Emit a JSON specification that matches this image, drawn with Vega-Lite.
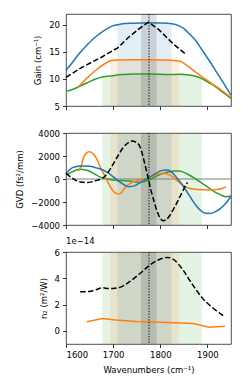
{
  "$schema": "https://vega.github.io/schema/vega-lite/v6.json",
  "padding": {"left": 15, "top": 13, "right": 14, "bottom": 6},
  "background": "white",
  "datasets": {
    "gain": [
      {"s": "m3", "x": 1600, "y": 7.7}, {"s": "m3", "x": 1615, "y": 8.1}, {"s": "m3", "x": 1628, "y": 8.6}, {"s": "m3", "x": 1645, "y": 9.3}, {"s": "m3", "x": 1663, "y": 10.0}, {"s": "m3", "x": 1677, "y": 10.35}, {"s": "m3", "x": 1699, "y": 10.6}, {"s": "m3", "x": 1720, "y": 10.8}, {"s": "m3", "x": 1745, "y": 10.9}, {"s": "m3", "x": 1776, "y": 10.9}, {"s": "m3", "x": 1800, "y": 10.85}, {"s": "m3", "x": 1819, "y": 10.8}, {"s": "m3", "x": 1840, "y": 10.85}, {"s": "m3", "x": 1861, "y": 10.75}, {"s": "m3", "x": 1875, "y": 10.5}, {"s": "m3", "x": 1888, "y": 10.05}, {"s": "m3", "x": 1903, "y": 9.3}, {"s": "m3", "x": 1917, "y": 8.6}, {"s": "m3", "x": 1933, "y": 7.5}, {"s": "m3", "x": 1950, "y": 6.4},
      {"s": "m2", "x": 1627, "y": 8.6}, {"s": "m2", "x": 1645, "y": 10.2}, {"s": "m2", "x": 1663, "y": 11.6}, {"s": "m2", "x": 1684, "y": 12.9}, {"s": "m2", "x": 1694, "y": 13.35}, {"s": "m2", "x": 1710, "y": 13.5}, {"s": "m2", "x": 1740, "y": 13.55}, {"s": "m2", "x": 1776, "y": 13.55}, {"s": "m2", "x": 1810, "y": 13.5}, {"s": "m2", "x": 1840, "y": 13.3}, {"s": "m2", "x": 1858, "y": 12.4}, {"s": "m2", "x": 1875, "y": 11.25}, {"s": "m2", "x": 1890, "y": 10.3}, {"s": "m2", "x": 1910, "y": 9.1}, {"s": "m2", "x": 1930, "y": 7.9}, {"s": "m2", "x": 1950, "y": 6.6},
      {"s": "m1", "x": 1600, "y": 11.6}, {"s": "m1", "x": 1614, "y": 13.1}, {"s": "m1", "x": 1628, "y": 14.7}, {"s": "m1", "x": 1645, "y": 16.3}, {"s": "m1", "x": 1663, "y": 17.8}, {"s": "m1", "x": 1680, "y": 18.9}, {"s": "m1", "x": 1699, "y": 19.8}, {"s": "m1", "x": 1709, "y": 20.0}, {"s": "m1", "x": 1720, "y": 20.2}, {"s": "m1", "x": 1740, "y": 20.3}, {"s": "m1", "x": 1776, "y": 20.4}, {"s": "m1", "x": 1800, "y": 20.35}, {"s": "m1", "x": 1824, "y": 20.2}, {"s": "m1", "x": 1840, "y": 19.8}, {"s": "m1", "x": 1850, "y": 19.3}, {"s": "m1", "x": 1861, "y": 18.4}, {"s": "m1", "x": 1875, "y": 17.1}, {"s": "m1", "x": 1889, "y": 15.3}, {"s": "m1", "x": 1903, "y": 13.5}, {"s": "m1", "x": 1917, "y": 11.6}, {"s": "m1", "x": 1933, "y": 9.4}, {"s": "m1", "x": 1950, "y": 7.0},
      {"s": "ref", "x": 1600, "y": 10.3}, {"s": "ref", "x": 1635, "y": 12.2}, {"s": "ref", "x": 1677, "y": 14.1}, {"s": "ref", "x": 1709, "y": 15.7}, {"s": "ref", "x": 1720, "y": 16.6}, {"s": "ref", "x": 1734, "y": 17.8}, {"s": "ref", "x": 1750, "y": 18.9}, {"s": "ref", "x": 1762, "y": 19.7}, {"s": "ref", "x": 1775, "y": 20.5}, {"s": "ref", "x": 1797, "y": 19.1}, {"s": "ref", "x": 1826, "y": 16.6}, {"s": "ref", "x": 1855, "y": 14.5}
    ],
    "gvd": [
      {"s": "m3", "x": 1600, "y": 348}, {"s": "m3", "x": 1614, "y": 638}, {"s": "m3", "x": 1622, "y": 780}, {"s": "m3", "x": 1631, "y": 841}, {"s": "m3", "x": 1640, "y": 800}, {"s": "m3", "x": 1649, "y": 696}, {"s": "m3", "x": 1660, "y": 450}, {"s": "m3", "x": 1670, "y": 203}, {"s": "m3", "x": 1685, "y": 30}, {"s": "m3", "x": 1699, "y": -87}, {"s": "m3", "x": 1717, "y": -140}, {"s": "m3", "x": 1734, "y": -174}, {"s": "m3", "x": 1745, "y": -230}, {"s": "m3", "x": 1755, "y": -290}, {"s": "m3", "x": 1766, "y": -220}, {"s": "m3", "x": 1776, "y": -87}, {"s": "m3", "x": 1787, "y": 130}, {"s": "m3", "x": 1797, "y": 348}, {"s": "m3", "x": 1808, "y": 520}, {"s": "m3", "x": 1819, "y": 638}, {"s": "m3", "x": 1830, "y": 690}, {"s": "m3", "x": 1840, "y": 696}, {"s": "m3", "x": 1850, "y": 580}, {"s": "m3", "x": 1861, "y": 348}, {"s": "m3", "x": 1875, "y": 0}, {"s": "m3", "x": 1889, "y": -377}, {"s": "m3", "x": 1903, "y": -780}, {"s": "m3", "x": 1917, "y": -1160}, {"s": "m3", "x": 1928, "y": -1380}, {"s": "m3", "x": 1939, "y": -1537}, {"s": "m3", "x": 1950, "y": -1479},
      {"s": "m2", "x": 1626, "y": 700}, {"s": "m2", "x": 1632, "y": 1100}, {"s": "m2", "x": 1638, "y": 1943}, {"s": "m2", "x": 1643, "y": 2250}, {"s": "m2", "x": 1649, "y": 2378}, {"s": "m2", "x": 1655, "y": 2300}, {"s": "m2", "x": 1660, "y": 2088}, {"s": "m2", "x": 1667, "y": 1600}, {"s": "m2", "x": 1674, "y": 928}, {"s": "m2", "x": 1683, "y": 200}, {"s": "m2", "x": 1692, "y": -522}, {"s": "m2", "x": 1700, "y": -1050}, {"s": "m2", "x": 1706, "y": -1247}, {"s": "m2", "x": 1711, "y": -1300}, {"s": "m2", "x": 1716, "y": -1247}, {"s": "m2", "x": 1721, "y": -1000}, {"s": "m2", "x": 1727, "y": -667}, {"s": "m2", "x": 1737, "y": -350}, {"s": "m2", "x": 1748, "y": -174}, {"s": "m2", "x": 1758, "y": -60}, {"s": "m2", "x": 1769, "y": 0}, {"s": "m2", "x": 1780, "y": 200}, {"s": "m2", "x": 1790, "y": 348}, {"s": "m2", "x": 1800, "y": 450}, {"s": "m2", "x": 1808, "y": 493}, {"s": "m2", "x": 1817, "y": 400}, {"s": "m2", "x": 1826, "y": 203}, {"s": "m2", "x": 1836, "y": -150}, {"s": "m2", "x": 1847, "y": -522}, {"s": "m2", "x": 1860, "y": -780}, {"s": "m2", "x": 1875, "y": -899}, {"s": "m2", "x": 1890, "y": -940}, {"s": "m2", "x": 1903, "y": -957}, {"s": "m2", "x": 1914, "y": -940}, {"s": "m2", "x": 1924, "y": -899}, {"s": "m2", "x": 1933, "y": -800}, {"s": "m2", "x": 1939, "y": -667},
      {"s": "m1", "x": 1600, "y": 493}, {"s": "m1", "x": 1614, "y": 986}, {"s": "m1", "x": 1625, "y": 1100}, {"s": "m1", "x": 1635, "y": 1131}, {"s": "m1", "x": 1650, "y": 1100}, {"s": "m1", "x": 1663, "y": 986}, {"s": "m1", "x": 1675, "y": 850}, {"s": "m1", "x": 1685, "y": 638}, {"s": "m1", "x": 1700, "y": 200}, {"s": "m1", "x": 1713, "y": -232}, {"s": "m1", "x": 1724, "y": -520}, {"s": "m1", "x": 1734, "y": -667}, {"s": "m1", "x": 1745, "y": -600}, {"s": "m1", "x": 1755, "y": -377}, {"s": "m1", "x": 1766, "y": -100}, {"s": "m1", "x": 1776, "y": 116}, {"s": "m1", "x": 1787, "y": 400}, {"s": "m1", "x": 1797, "y": 638}, {"s": "m1", "x": 1806, "y": 760}, {"s": "m1", "x": 1815, "y": 783}, {"s": "m1", "x": 1824, "y": 600}, {"s": "m1", "x": 1833, "y": 203}, {"s": "m1", "x": 1844, "y": -350}, {"s": "m1", "x": 1854, "y": -957}, {"s": "m1", "x": 1865, "y": -1650}, {"s": "m1", "x": 1875, "y": -2262}, {"s": "m1", "x": 1886, "y": -2750}, {"s": "m1", "x": 1896, "y": -2987}, {"s": "m1", "x": 1906, "y": -3000}, {"s": "m1", "x": 1917, "y": -2842}, {"s": "m1", "x": 1928, "y": -2550}, {"s": "m1", "x": 1939, "y": -2117}, {"s": "m1", "x": 1950, "y": -1500},
      {"s": "ref", "x": 1600, "y": 493}, {"s": "ref", "x": 1614, "y": 58}, {"s": "ref", "x": 1625, "y": -200}, {"s": "ref", "x": 1635, "y": -290}, {"s": "ref", "x": 1645, "y": -310}, {"s": "ref", "x": 1656, "y": -232}, {"s": "ref", "x": 1667, "y": -100}, {"s": "ref", "x": 1677, "y": 58}, {"s": "ref", "x": 1688, "y": 500}, {"s": "ref", "x": 1699, "y": 1218}, {"s": "ref", "x": 1710, "y": 2000}, {"s": "ref", "x": 1720, "y": 2668}, {"s": "ref", "x": 1730, "y": 3100}, {"s": "ref", "x": 1741, "y": 3306}, {"s": "ref", "x": 1748, "y": 3200}, {"s": "ref", "x": 1755, "y": 2958}, {"s": "ref", "x": 1761, "y": 2300}, {"s": "ref", "x": 1766, "y": 1508}, {"s": "ref", "x": 1771, "y": 650}, {"s": "ref", "x": 1776, "y": -232}, {"s": "ref", "x": 1781, "y": -1100}, {"s": "ref", "x": 1787, "y": -1972}, {"s": "ref", "x": 1794, "y": -2900}, {"s": "ref", "x": 1801, "y": -3480}, {"s": "ref", "x": 1806, "y": -3620}, {"s": "ref", "x": 1811, "y": -3567}, {"s": "ref", "x": 1818, "y": -3300}, {"s": "ref", "x": 1825, "y": -2842}, {"s": "ref", "x": 1833, "y": -2250}, {"s": "ref", "x": 1840, "y": -1682}, {"s": "ref", "x": 1847, "y": -1100}, {"s": "ref", "x": 1854, "y": -522}, {"s": "ref", "x": 1858, "y": -300}
    ],
    "n2": [
      {"s": "ref", "x": 1630, "y": 2.97e-14}, {"s": "ref", "x": 1649, "y": 3.0e-14}, {"s": "ref", "x": 1665, "y": 3.15e-14}, {"s": "ref", "x": 1677, "y": 3.28e-14}, {"s": "ref", "x": 1690, "y": 3.22e-14}, {"s": "ref", "x": 1699, "y": 3.23e-14}, {"s": "ref", "x": 1716, "y": 3.33e-14}, {"s": "ref", "x": 1734, "y": 3.72e-14}, {"s": "ref", "x": 1755, "y": 4.31e-14}, {"s": "ref", "x": 1776, "y": 4.95e-14}, {"s": "ref", "x": 1797, "y": 5.41e-14}, {"s": "ref", "x": 1815, "y": 5.59e-14}, {"s": "ref", "x": 1829, "y": 5.41e-14}, {"s": "ref", "x": 1847, "y": 4.69e-14}, {"s": "ref", "x": 1868, "y": 3.54e-14}, {"s": "ref", "x": 1889, "y": 2.51e-14}, {"s": "ref", "x": 1910, "y": 1.79e-14}, {"s": "ref", "x": 1935, "y": 1.12e-14},
      {"s": "m2", "x": 1644, "y": 0.7e-14}, {"s": "m2", "x": 1677, "y": 0.94e-14}, {"s": "m2", "x": 1706, "y": 0.83e-14}, {"s": "m2", "x": 1748, "y": 0.72e-14}, {"s": "m2", "x": 1804, "y": 0.66e-14}, {"s": "m2", "x": 1870, "y": 0.56e-14}, {"s": "m2", "x": 1903, "y": 0.27e-14}, {"s": "m2", "x": 1937, "y": 0.35e-14}
    ],
    "bands": [
      {"s": "m3", "lo": 1677, "hi": 1888},
      {"s": "m2", "lo": 1694, "hi": 1840},
      {"s": "m1", "lo": 1709, "hi": 1824}
    ],
    "center": [{"lo": 1759, "hi": 1792, "peak": 1776}]
  },
  "config": {
    "font": "DejaVu Sans",
    "view": {"stroke": "#222222", "strokeWidth": 0.8},
    "axis": {"labelFontSize": 8.5, "titleFontSize": 8.5, "titleFontWeight": "normal", "labelColor": "#000000", "titleColor": "#000000", "tickColor": "#000000", "tickSize": 3.5, "tickWidth": 0.8, "domain": false, "grid": false, "labelPadding": 3, "titlePadding": 6, "labelOverlap": false, "minExtent": 0},
    "title": {"fontSize": 8.5, "fontWeight": "normal", "anchor": "start", "frame": "group", "offset": 3, "color": "#000000"},
    "line": {"strokeWidth": 1.5}
  },
  "bounds": "flush",
  "spacing": 27,
  "vconcat": [
    {
      "width": 165, "height": 92,
      "layer": [
        {
          "data": {"name": "gain"},
          "transform": [
            {"lookup": "s", "from": {"data": {"name": "bands"}, "key": "s", "fields": ["lo", "hi"]}},
            {"filter": "isValid(datum.lo) && datum.x >= datum.lo && datum.x <= datum.hi"}
          ],
          "mark": {"type": "area", "interpolate": "monotone", "opacity": 0.12},
          "encoding": {
            "x": {"field": "x", "type": "quantitative", "scale": {"domain": [1600, 1950], "nice": false}, "axis": {"values": [1600, 1700, 1800, 1900], "labels": false, "title": null}},
            "y": {"field": "y", "type": "quantitative", "stack": null, "scale": {"domain": [5, 22], "nice": false}, "axis": {"values": [5, 10, 15, 20], "tickCount": 4, "labelOverlap": false, "labelFlush": false, "labelBound": false, "title": "Gain (cm⁻¹)"}},
            "y2": {"datum": 5},
            "color": {"field": "s", "type": "nominal", "legend": null, "scale": {"domain": ["m1", "m2", "m3", "ref"], "range": ["#1f77b4", "#ff7f0e", "#2ca02c", "#000000"]}}
          }
        },
        {
          "data": {"name": "center"},
          "mark": {"type": "rect", "color": "#000000", "opacity": 0.12},
          "encoding": {"x": {"field": "lo", "type": "quantitative"}, "x2": {"field": "hi"}}
        },
        {
          "data": {"name": "gain"},
          "transform": [{"filter": "datum.s !== 'ref'"}],
          "mark": {"type": "line", "interpolate": "monotone"},
          "encoding": {
            "x": {"field": "x", "type": "quantitative"},
            "y": {"field": "y", "type": "quantitative"},
            "color": {"field": "s", "type": "nominal", "legend": null}
          }
        },
        {
          "data": {"name": "gain"},
          "transform": [{"filter": "datum.s === 'ref'"}],
          "mark": {"type": "line", "color": "#000000", "strokeDash": [5.5, 2.4]},
          "encoding": {
            "x": {"field": "x", "type": "quantitative"},
            "y": {"field": "y", "type": "quantitative"}
          }
        },
        {
          "data": {"name": "center"},
          "mark": {"type": "rule", "color": "#000000", "strokeWidth": 0.9, "strokeDash": [1.4, 1.4]},
          "encoding": {"x": {"field": "peak", "type": "quantitative"}}
        }
      ]
    },
    {
      "width": 165, "height": 92,
      "layer": [
        {
          "data": {"name": "bands"},
          "mark": {"type": "rect", "opacity": 0.12},
          "encoding": {
            "x": {"field": "lo", "type": "quantitative", "scale": {"domain": [1600, 1950], "nice": false}, "axis": {"values": [1600, 1700, 1800, 1900], "labels": false, "title": null}},
            "x2": {"field": "hi"},
            "color": {"field": "s", "type": "nominal", "legend": null, "scale": {"domain": ["m1", "m2", "m3", "ref"], "range": ["#1f77b4", "#ff7f0e", "#2ca02c", "#000000"]}}
          }
        },
        {
          "data": {"name": "center"},
          "mark": {"type": "rect", "color": "#000000", "opacity": 0.12},
          "encoding": {"x": {"field": "lo", "type": "quantitative"}, "x2": {"field": "hi"}}
        },
        {
          "data": {"name": "center"},
          "mark": {"type": "rule", "color": "#808080", "strokeWidth": 1},
          "encoding": {"y": {"datum": 0, "type": "quantitative", "scale": {"domain": [-4000, 4000], "nice": false}, "axis": {"values": [-4000, -2000, 0, 2000, 4000], "tickCount": 5, "labelOverlap": false, "labelFlush": false, "labelBound": false, "format": "d", "title": "GVD (fs²/mm)"}}}
        },
        {
          "data": {"name": "gvd"},
          "transform": [{"filter": "datum.s !== 'ref'"}],
          "mark": {"type": "line", "interpolate": "monotone"},
          "encoding": {
            "x": {"field": "x", "type": "quantitative"},
            "y": {"field": "y", "type": "quantitative"},
            "color": {"field": "s", "type": "nominal", "legend": null}
          }
        },
        {
          "data": {"name": "gvd"},
          "transform": [{"filter": "datum.s === 'ref'"}],
          "mark": {"type": "line", "interpolate": "monotone", "color": "#000000", "strokeDash": [5.5, 2.4]},
          "encoding": {
            "x": {"field": "x", "type": "quantitative"},
            "y": {"field": "y", "type": "quantitative"}
          }
        },
        {
          "data": {"name": "center"},
          "mark": {"type": "rule", "color": "#000000", "strokeWidth": 0.9, "strokeDash": [1.4, 1.4]},
          "encoding": {"x": {"field": "peak", "type": "quantitative"}}
        }
      ]
    },
    {
      "width": 165, "height": 92,
      "title": {"text": "1e−14"},
      "layer": [
        {
          "data": {"name": "bands"},
          "mark": {"type": "rect", "opacity": 0.12},
          "encoding": {
            "x": {"field": "lo", "type": "quantitative", "scale": {"domain": [1600, 1950], "nice": false}, "axis": {"values": [1600, 1700, 1800, 1900], "format": "d", "title": "Wavenumbers (cm⁻¹)"}},
            "x2": {"field": "hi"},
            "color": {"field": "s", "type": "nominal", "legend": null, "scale": {"domain": ["m1", "m2", "m3", "ref"], "range": ["#1f77b4", "#ff7f0e", "#2ca02c", "#000000"]}}
          }
        },
        {
          "data": {"name": "center"},
          "mark": {"type": "rect", "color": "#000000", "opacity": 0.12},
          "encoding": {"x": {"field": "lo", "type": "quantitative"}, "x2": {"field": "hi"}}
        },
        {
          "data": {"name": "n2"},
          "transform": [{"filter": "datum.s === 'ref'"}],
          "mark": {"type": "line", "interpolate": "monotone", "color": "#000000", "strokeDash": [5.5, 2.4]},
          "encoding": {
            "x": {"field": "x", "type": "quantitative"},
            "y": {"field": "y", "type": "quantitative", "scale": {"domain": [-1e-14, 6e-14], "nice": false, "zero": false}, "axis": {"values": [0, 2e-14, 4e-14, 6e-14], "tickCount": 4, "labelOverlap": false, "labelFlush": false, "labelBound": false, "labelExpr": "format(datum.value * 1e14, 'd')", "title": "n₂ (m²/W)"}}
          }
        },
        {
          "data": {"name": "n2"},
          "transform": [{"filter": "datum.s === 'm2'"}],
          "mark": {"type": "line", "color": "#ff7f0e"},
          "encoding": {
            "x": {"field": "x", "type": "quantitative"},
            "y": {"field": "y", "type": "quantitative"}
          }
        },
        {
          "data": {"name": "center"},
          "mark": {"type": "rule", "color": "#000000", "strokeWidth": 0.9, "strokeDash": [1.4, 1.4]},
          "encoding": {"x": {"field": "peak", "type": "quantitative"}}
        }
      ]
    }
  ]
}
